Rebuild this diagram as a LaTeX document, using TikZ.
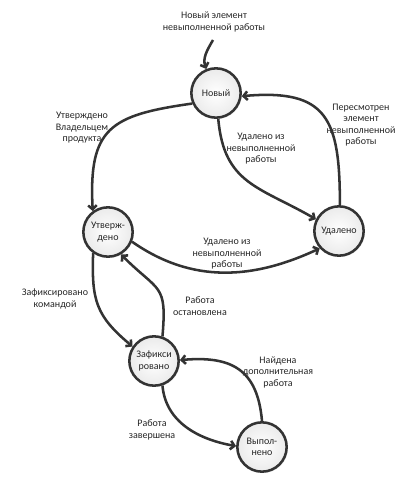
\documentclass[tikz,border=0pt]{standalone}
\usepackage{fontspec}
\setmainfont{Carlito}
\usetikzlibrary{arrows.meta, shadows}

\tikzset{
  stnode/.style={circle, draw=black!80, line width=1.9pt, minimum size=37pt,
    inner sep=0pt, inner color=white, outer color=black!8, text=black!85,
    drop shadow={opacity=0.12, shadow xshift=1pt, shadow yshift=-1pt},
    font=\fontsize{7.5}{8.6}\selectfont, align=center},
  lbl/.style={font=\fontsize{7.5}{8.6}\selectfont, align=center, text=black!85},
  flow/.style={->, draw=black!80, line width=1.9pt}
}

\begin{document}
\begin{tikzpicture}[x=0.75pt, y=0.75pt, >={Straight Barb[length=3pt,width=6.5pt]}]
        \useasboundingbox (0,0) rectangle (418,-481);

        \node[stnode] (new)  at (216,-93)  {Новый};
        \node[stnode] (del)  at (339,-231) {Удалено};
        \node[stnode] (appr) at (108,-232) {Утверж-\\дено};
        \node[stnode] (comm) at (154,-361) {Зафикси\\ровано};
        \node[stnode] (done) at (262,-447) {Выпол-\\нено};

        \coordinate (in) at (213,-40);
        \node[lbl] (lin)   at (214,-22)  {Новый элемент\\невыполненной работы};
        \node[lbl] (lappr) at (82,-128)  {Утверждено\\Владельцем\\продукта};
        \node[lbl] (ldel1) at (261,-149) {Удалено из\\невыполненной\\работы};
        \node[lbl] (lrev)  at (361,-125) {Пересмотрен\\элемент\\невыполненной\\работы};
        \node[lbl] (ldel2) at (227,-254) {Удалено из\\невыполненной\\работы};
        \node[lbl] (lcomm) at (55,-299)  {Зафиксировано\\командой};
        \node[lbl] (lstop) at (200,-306) {Работа\\остановлена};
        \node[lbl] (lmore) at (278,-372) {Найдена\\дополнительная\\работа};
        \node[lbl] (lfin)  at (152,-430) {Работа\\завершена};

        \draw[flow] (in) to [out=240, in=110] (new.112);

        \draw[flow] (new.204) to [out=188, in=93, looseness=1.45] (appr.126);
        \draw[flow] (new.275) to [out=275, in=150, looseness=1.2] (del.153);
        \draw[flow] (del.88) to [out=90, in=5, looseness=1.5] (new.353);

        \draw[flow] (appr.338) to [out=325, in=205] (del.222);

        \draw[flow] (appr.235) to [out=268, in=140, looseness=1.2] (comm.146);
        \draw[flow] (comm.71) to [out=85, in=315, looseness=1.5] (appr.300);

        \draw[flow] (comm.289) to [out=275, in=170] (done.178);
        \draw[flow] (done.90) to [out=95, in=5, looseness=1.3] (comm.2);
      \end{tikzpicture}
\end{document}
